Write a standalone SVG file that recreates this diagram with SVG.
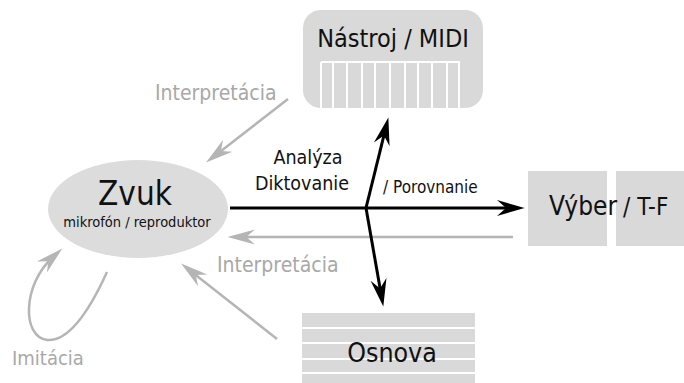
<svg xmlns="http://www.w3.org/2000/svg" width="684" height="383" viewBox="0 0 684 383">
<defs>
<style>
text{font-family:"DejaVu Sans Condensed","DejaVu Sans",sans-serif;}
.dark{fill:#111;}
.light{fill:#a8a8a8;}
.box{fill:#d9d9d9;}
.k{stroke:#fff;stroke-width:2;}
.blk{stroke:#000;stroke-width:3;fill:none;}
.gry{stroke:#b5b5b5;stroke-width:2.5;fill:none;}
</style>
<marker id="ab" markerUnits="userSpaceOnUse" markerWidth="30" markerHeight="20" viewBox="0 -8 26 16" refX="14" refY="0" orient="auto"><path d="M0,-7 L24,0 L0,7 L8,0 z" fill="#000"/></marker>
<marker id="ag" markerUnits="userSpaceOnUse" markerWidth="30" markerHeight="20" viewBox="0 -7 24 14" refX="12" refY="0" orient="auto"><path d="M0,-6 L22,0 L0,6 L7,0 z" fill="#b5b5b5"/></marker>
</defs>

<g id="nastroj">
<rect class="box" x="303" y="10" width="180" height="98" rx="18"/>
<g class="k">
<line x1="321" y1="62" x2="460" y2="62"/>
<line x1="321" y1="62" x2="321" y2="108"/>
<line x1="333" y1="62" x2="333" y2="108"/>
<line x1="347" y1="62" x2="347" y2="108"/>
<line x1="362" y1="62" x2="362" y2="108"/>
<line x1="375" y1="62" x2="375" y2="108"/>
<line x1="390" y1="62" x2="390" y2="108"/>
<line x1="405" y1="62" x2="405" y2="108"/>
<line x1="418" y1="62" x2="418" y2="108"/>
<line x1="432" y1="62" x2="432" y2="108"/>
<line x1="447" y1="62" x2="447" y2="108"/>
<line x1="459" y1="62" x2="459" y2="108"/>
</g>
<text class="dark" x="393" y="47" font-size="25" text-anchor="middle">Nástroj / MIDI</text>
</g>

<g id="zvuk">
<ellipse cx="138" cy="209" rx="90" ry="49" fill="#dcdcdc"/>
<text class="dark" x="135" y="205" font-size="33" text-anchor="middle">Zvuk</text>
<text class="dark" x="137" y="227" font-size="14.5" text-anchor="middle">mikrofón / reproduktor</text>
</g>

<g id="vyber">
<rect class="box" x="528" y="171" width="79" height="75"/>
<rect class="box" x="616" y="171" width="68" height="75"/>
<text class="dark" x="549" y="215" font-size="26">Výber</text>
<text class="dark" x="623" y="215" font-size="24">/ T-F</text>
</g>

<g id="osnova">
<rect class="box" x="302" y="313" width="173" height="70"/>
<g class="k">
<line x1="302" y1="328" x2="475" y2="328"/>
<line x1="302" y1="343" x2="475" y2="343"/>
<line x1="302" y1="359" x2="475" y2="359"/>
<line x1="302" y1="373" x2="475" y2="373"/>
</g>
<text class="dark" x="392" y="362" font-size="26.5" text-anchor="middle">Osnova</text>
</g>

<g id="connectors">
<line class="gry" x1="513" y1="237" x2="240" y2="237" marker-end="url(#ag)"/>
<line class="gry" x1="288" y1="99" x2="215.9" y2="154.9" marker-end="url(#ag)"/>
<line class="gry" x1="277" y1="339" x2="190.9" y2="271.2" marker-end="url(#ag)"/>
<path class="gry" d="M107,272 C92,305 70,342 47,340 C22,337 22,285 53,257" marker-end="url(#ag)"/>
<line class="blk" x1="230" y1="208" x2="513" y2="208" marker-end="url(#ab)"/>
<line class="blk" x1="366" y1="208" x2="385.6" y2="128.7" marker-end="url(#ab)"/>
<line class="blk" x1="366" y1="208" x2="381.3" y2="295.2" marker-end="url(#ab)"/>
<text class="dark" x="308" y="164" font-size="19.5" text-anchor="middle">Analýza</text>
<text class="dark" x="302" y="190" font-size="19.5" text-anchor="middle">Diktovanie</text>
<text class="dark" x="383" y="193" font-size="17">/ Porovnanie</text>
<text class="light" x="155" y="100" font-size="21">Interpretácia</text>
<text class="light" x="217" y="272" font-size="21">Interpretácia</text>
<text class="light" x="12" y="365" font-size="20">Imitácia</text>
</g>
</svg>
